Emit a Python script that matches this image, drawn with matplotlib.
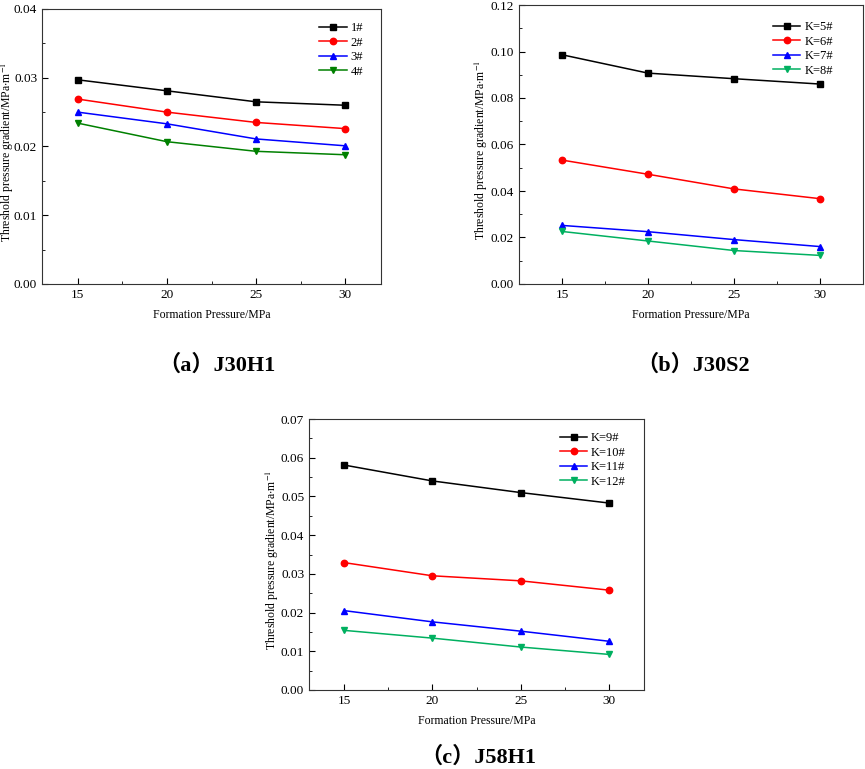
import matplotlib.pyplot as plt
from matplotlib.ticker import MultipleLocator

plt.rcParams['font.family'] = ['Liberation Serif', 'Noto Sans CJK SC']
plt.rcParams['mathtext.fontset'] = 'stix'

pressure = [15, 20, 25, 30]

# (a) J30H1
a_labels = ['1#', '2#', '3#', '4#']
a_1 = [0.0297, 0.0281, 0.0265, 0.0260]
a_2 = [0.0269, 0.0250, 0.0235, 0.0226]
a_3 = [0.0250, 0.0233, 0.0211, 0.0201]
a_4 = [0.0234, 0.0207, 0.0193, 0.0188]

# (b) J30S2
b_labels = ['K=5#', 'K=6#', 'K=7#', 'K=8#']
b_5 = [0.0986, 0.0907, 0.0883, 0.0860]
b_6 = [0.0533, 0.0472, 0.0409, 0.0367]
b_7 = [0.0252, 0.0225, 0.0191, 0.0161]
b_8 = [0.0226, 0.0185, 0.0144, 0.0123]

# (c) J58H1
c_labels = ['K=9#', 'K=10#', 'K=11#', 'K=12#']
c_9 = [0.0581, 0.0540, 0.0510, 0.0483]
c_10 = [0.0329, 0.0295, 0.0282, 0.0258]
c_11 = [0.0205, 0.0176, 0.0152, 0.0126]
c_12 = [0.0154, 0.0134, 0.0111, 0.0092]

styles = [('black', 's'), ('red', 'o'), ('blue', '^'), ('green', 'v')]
teal = '#00b060'

ylab = 'Threshold pressure gradient/MPa$\\cdot$m$^{-1}$'
xlab = 'Formation Pressure/MPa'

fig = plt.figure(figsize=(8.65, 7.69), dpi=100)


def panel(rect, series, labels, xlim, ylim, ymajor, yminor, green, leg_anchor, caption, cap_xy, ylab_x):
    ax = fig.add_axes(rect)
    for i, (vals, lab) in enumerate(zip(series, labels)):
        col, mk = styles[i]
        if i == 3:
            col = green
        ax.plot(pressure, vals, color=col, marker=mk, markersize=4.6, linewidth=1.1, label=lab)
    ax.set_xlim(*xlim)
    ax.set_ylim(*ylim)
    ax.set_xticks(pressure)
    ax.xaxis.set_minor_locator(MultipleLocator(2.5))
    ax.yaxis.set_major_locator(MultipleLocator(ymajor))
    ax.yaxis.set_minor_locator(MultipleLocator(yminor))
    ax.yaxis.set_major_formatter(plt.FormatStrFormatter('%.2f'))
    ax.tick_params(which='both', direction='in', top=False, right=False, labelsize=9.5)
    ax.tick_params(which='major', length=4)
    ax.tick_params(which='minor', length=2.5)
    ax.set_xlabel(xlab, fontsize=8.5, labelpad=6)
    ax.set_ylabel(ylab, fontsize=8.5)
    # right edge of the rotated label, in axes units
    ax.yaxis.set_label_coords((ylab_x - rect[0] * 865) / (rect[2] * 865), 0.48)
    for s in ax.spines.values():
        s.set_linewidth(0.8)
        s.set_color('#333333')
    ax.legend(loc='upper left', bbox_to_anchor=leg_anchor, frameon=False, fontsize=9,
              handlelength=2.2, handletextpad=0.3, labelspacing=0.2, borderpad=0)
    fig.text(cap_xy[0] / 865, 1 - cap_xy[1] / 769, caption, fontsize=16, fontweight='bold',
             ha='center', va='center')
    return ax


panel([42 / 865, 1 - 284 / 769, 339 / 865, 275 / 769],
      [a_1, a_2, a_3, a_4], a_labels, (13, 32), (0, 0.04), 0.01, 0.005, 'green',
      (0.80, 0.975), '（a）J30H1', (217, 365), 16)

panel([519 / 865, 1 - 284 / 769, 344 / 865, 279 / 769],
      [b_5, b_6, b_7, b_8], b_labels, (12.5, 32.5), (0, 0.12), 0.02, 0.01, teal,
      (0.72, 0.965), '（b）J30S2', (693, 365), 490)

panel([309 / 865, 1 - 690 / 769, 335 / 865, 271 / 769],
      [c_9, c_10, c_11, c_12], c_labels, (13, 32), (0, 0.07), 0.01, 0.005, teal,
      (0.73, 0.975), '（c）J58H1', (478, 757), 281)

fig.savefig('out.png', dpi=100)
